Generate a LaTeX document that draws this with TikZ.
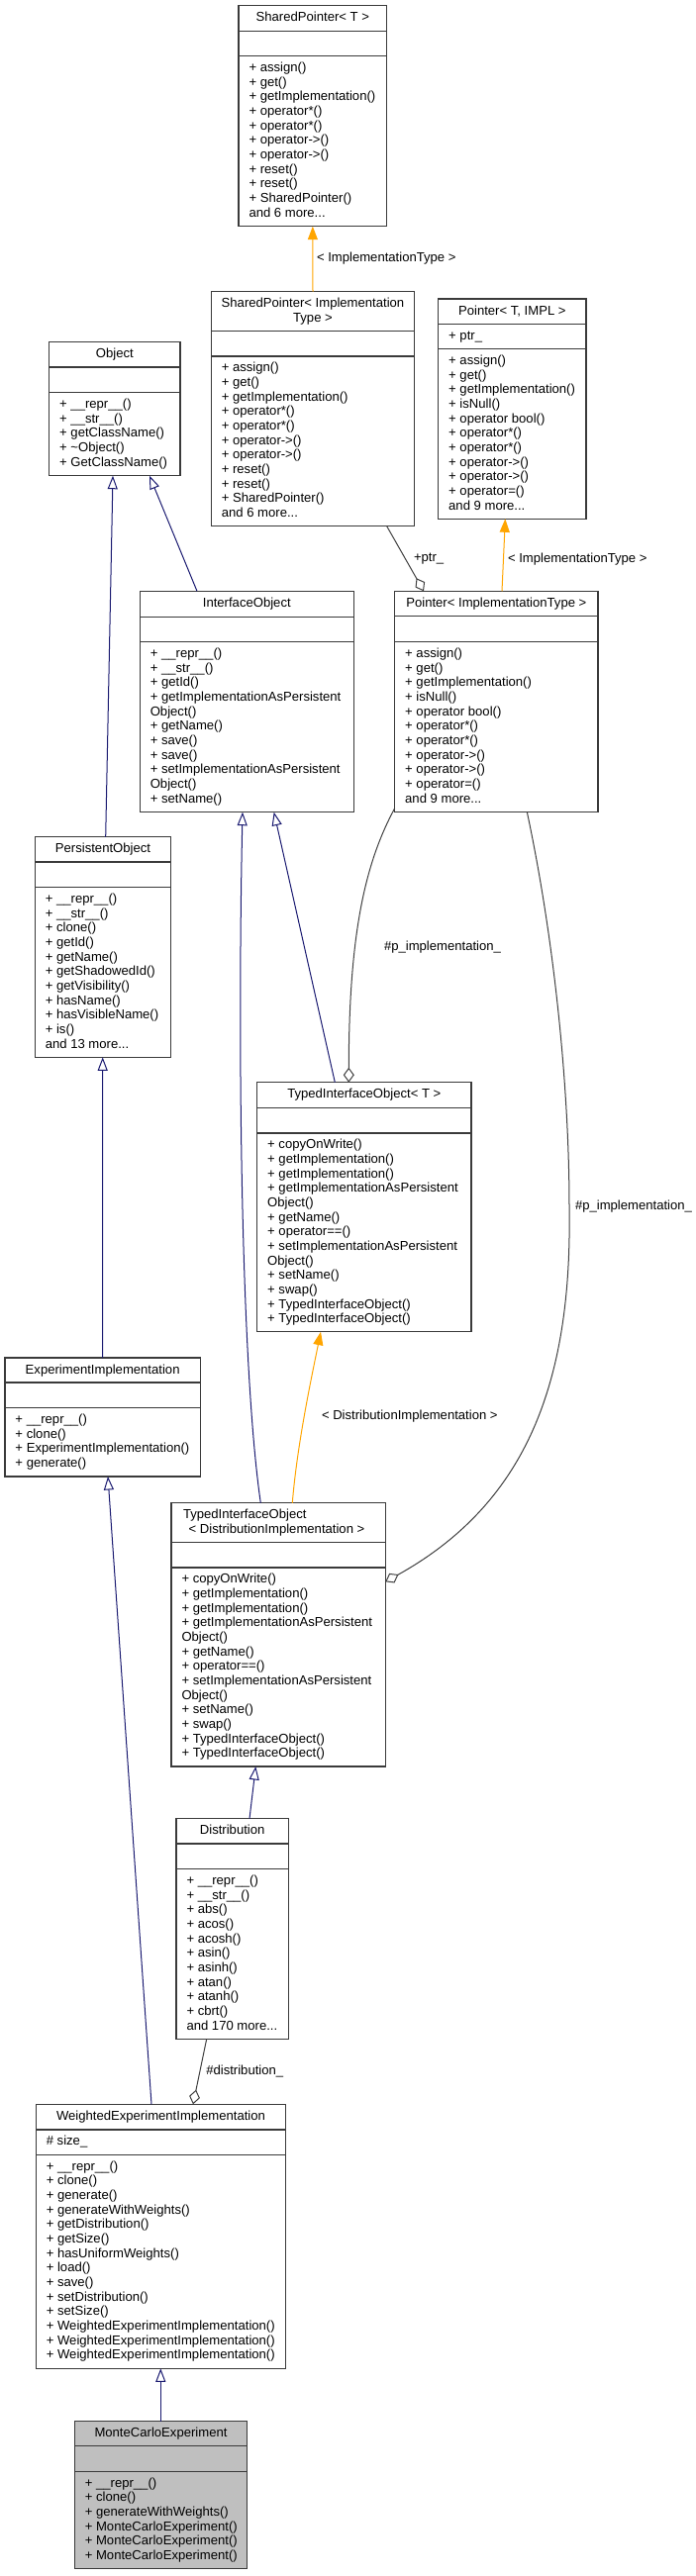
\documentclass[tikz,border=0pt]{standalone}
\usepackage{fontspec}
\setmainfont{Liberation Sans}
\usetikzlibrary{arrows.meta}
\definecolor{boxline}{HTML}{3A3A3A}
\definecolor{inhblue}{HTML}{191970}
\definecolor{tmplorange}{HTML}{FFA500}
\definecolor{usegrey}{HTML}{404040}
\definecolor{mcgrey}{HTML}{BFBFBF}
\tikzset{
  umlframe/.style={draw=boxline, line width=1.2pt, inner sep=0pt, outer sep=0pt, anchor=north west},
  umlsep/.style={draw=boxline, line width=1.2pt},
  umltext/.style={inner sep=0pt, outer sep=0pt, text=black, font=\fontsize{13.1pt}{14.67pt}\selectfont},
  inherit/.style={draw=inhblue, line width=1pt, -{Triangle[open, length=13.5pt, width=10pt]}},
  tmpl/.style={draw=tmplorange, line width=1pt, -{Triangle[length=13.5pt, width=10pt, fill=tmplorange]}},
  usage/.style={draw=usegrey, line width=1pt, -{Diamond[open, length=15pt, width=11pt]}},
  edgelabel/.style={umltext, anchor=west},
}
% name, left, top, right, title sep, attr sep, bottom, fill
\newcommand{\umlbox}[8]{%
  \node[umlframe, fill=#8, minimum width=#4pt-#2pt, minimum height=#7pt-#3pt] (#1) at (#2,#3) {};
  \draw[umlsep] (#2,#5) -- (#4,#5);
  \draw[umlsep] (#2,#6) -- (#4,#6);
}
% name, left, right, top, text
\newcommand{\umltitle}[5]{%
  \node[umltext, anchor=base west] (#1) at (#2,#4+16) {\parbox[t]{\dimexpr #3pt-#2pt\relax}{\centering #5}};
}
% name, left, separator y, lines
\newcommand{\umlmembers}[4]{%
  \node[umltext, anchor=base west] (#1) at (#2+10.5,#3+15.7) {\parbox[t]{320pt}{\raggedright #4}};
}
\newcommand{\spmethods}{+ assign()\\+ get()\\+ getImplementation()\\+ operator*()\\+ operator*()\\+ operator->()\\+ operator->()\\+ reset()\\+ reset()\\+ SharedPointer()\\and 6 more...}
\newcommand{\ptmethods}{+ assign()\\+ get()\\+ getImplementation()\\+ isNull()\\+ operator bool()\\+ operator*()\\+ operator*()\\+ operator->()\\+ operator->()\\+ operator=()\\and 9 more...}
\newcommand{\tiomethods}{+ copyOnWrite()\\+ getImplementation()\\+ getImplementation()\\+ getImplementationAsPersistent\\Object()\\+ getName()\\+ operator==()\\+ setImplementationAsPersistent\\Object()\\+ setName()\\+ swap()\\+ TypedInterfaceObject()\\+ TypedInterfaceObject()}
\begin{document}
\begin{tikzpicture}[x=1pt, y=-1pt]
\path[fill=white] (0,0) rectangle (703,2603);
\useasboundingbox (0,0) rectangle (703,2603);

% SharedPointer< T >
\umlbox{spt}{241}{5.7}{390.7}{31.3}{56.7}{228.7}{white}
\umltitle{spt-t}{241}{390.7}{5.7}{SharedPointer< T >}
\umlmembers{spt-m}{241}{56.7}{\spmethods}

% SharedPointer< ImplementationType >
\umlbox{spit}{213.3}{294.7}{418.7}{334.3}{360}{531.7}{white}
\umltitle{spit-t}{213.3}{418.7}{294.7}{SharedPointer< Implementation\\Type >}
\umlmembers{spit-m}{213.3}{360}{\spmethods}

% Pointer< T, IMPL >
\umlbox{pti}{442.7}{302}{592}{327.3}{352.7}{524.3}{white}
\umltitle{pti-t}{442.7}{592}{302}{Pointer< T, IMPL >}
\umlmembers{pti-a}{442.7}{327.3}{+ ptr\_}
\umlmembers{pti-m}{442.7}{352.7}{\ptmethods}

% Object
\umlbox{obj}{49.7}{345.7}{182}{371}{396.7}{480.7}{white}
\umltitle{obj-t}{49.7}{182}{345.7}{Object}
\umlmembers{obj-m}{49.7}{396.7}{+ \_\_repr\_\_()\\+ \_\_str\_\_()\\+ getClassName()\\+ \textasciitilde Object()\\+ GetClassName()}

% InterfaceObject
\umlbox{io}{141.3}{597.3}{357.3}{623.3}{648.7}{820.7}{white}
\umltitle{io-t}{141.3}{357.3}{597.3}{InterfaceObject}
\umlmembers{io-m}{141.3}{648.7}{+ \_\_repr\_\_()\\+ \_\_str\_\_()\\+ getId()\\+ getImplementationAsPersistent\\Object()\\+ getName()\\+ save()\\+ save()\\+ setImplementationAsPersistent\\Object()\\+ setName()}

% Pointer< ImplementationType >
\umlbox{pit}{398.7}{597.3}{604}{622.7}{648.7}{820.3}{white}
\umltitle{pit-t}{398.7}{604}{597.3}{Pointer< ImplementationType >}
\umlmembers{pit-m}{398.7}{648.7}{\ptmethods}

% PersistentObject
\umlbox{po}{35.3}{845.7}{172.7}{871}{896.7}{1068.3}{white}
\umltitle{po-t}{35.3}{172.7}{845.7}{PersistentObject}
\umlmembers{po-m}{35.3}{896.7}{+ \_\_repr\_\_()\\+ \_\_str\_\_()\\+ clone()\\+ getId()\\+ getName()\\+ getShadowedId()\\+ getVisibility()\\+ hasName()\\+ hasVisibleName()\\+ is()\\and 13 more...}

% TypedInterfaceObject< T >
\umlbox{tiot}{259.7}{1093.7}{476}{1119.3}{1145}{1345.7}{white}
\umltitle{tiot-t}{259.7}{476}{1093.7}{TypedInterfaceObject< T >}
\umlmembers{tiot-m}{259.7}{1145}{\tiomethods}

% ExperimentImplementation
\umlbox{ei}{5}{1372}{202.3}{1397}{1422.7}{1492}{white}
\umltitle{ei-t}{5}{202.3}{1372}{ExperimentImplementation}
\umlmembers{ei-m}{5}{1422.7}{+ \_\_repr\_\_()\\+ clone()\\+ ExperimentImplementation()\\+ generate()}

% TypedInterfaceObject< DistributionImplementation >
\umlbox{tiod}{173}{1518.7}{389.3}{1558.7}{1584}{1785}{white}
\node[umltext, anchor=base west] (tiod-t) at (185,1518.7+16) {\parbox[t]{250pt}{\raggedright TypedInterfaceObject\\\hspace*{5.7pt}< DistributionImplementation >}};
\umlmembers{tiod-m}{173}{1584}{\tiomethods}

% Distribution
\umlbox{dist}{178}{1837.7}{291.3}{1863}{1888.7}{2060.3}{white}
\umltitle{dist-t}{178}{291.3}{1837.7}{Distribution}
\umlmembers{dist-m}{178}{1888.7}{+ \_\_repr\_\_()\\+ \_\_str\_\_()\\+ abs()\\+ acos()\\+ acosh()\\+ asin()\\+ asinh()\\+ atan()\\+ atanh()\\+ cbrt()\\and 170 more...}

% WeightedExperimentImplementation
\umlbox{wei}{36.3}{2126.3}{288.7}{2152}{2177.3}{2393.3}{white}
\umltitle{wei-t}{36.3}{288.7}{2126.3}{WeightedExperimentImplementation}
\umlmembers{wei-a}{36.3}{2152}{\# size\_}
\umlmembers{wei-m}{36.3}{2177.3}{+ \_\_repr\_\_()\\+ clone()\\+ generate()\\+ generateWithWeights()\\+ getDistribution()\\+ getSize()\\+ hasUniformWeights()\\+ load()\\+ save()\\+ setDistribution()\\+ setSize()\\+ WeightedExperimentImplementation()\\+ WeightedExperimentImplementation()\\+ WeightedExperimentImplementation()}

% MonteCarloExperiment
\umlbox{mce}{75.3}{2446.7}{249.7}{2471.7}{2497.3}{2595.7}{mcgrey}
\umltitle{mce-t}{75.3}{249.7}{2446.7}{MonteCarloExperiment}
\umlmembers{mce-m}{75.3}{2497.3}{+ \_\_repr\_\_()\\+ clone()\\+ generateWithWeights()\\+ MonteCarloExperiment()\\+ MonteCarloExperiment()\\+ MonteCarloExperiment()}

% inheritance
\draw[inherit] ([xshift=2.7pt]po.north) -- ([xshift=-1.85pt]obj.south);
\draw[inherit] ([xshift=-50.3pt]io.north) -- ([xshift=35.15pt]obj.south);
\draw[inherit] (ei.north) -- ([xshift=-0.3pt]po.south);
\draw[inherit] ([xshift=-29.55pt]tiot.north) -- ([xshift=27.4pt]io.south);
\draw[inherit] ([xshift=-17.85pt]tiod.north) .. controls (243,1380) and (240,1050) .. ([xshift=-4.3pt]io.south);
\draw[inherit] ([xshift=17.35pt]dist.north) -- ([xshift=-22.85pt]tiod.south);
\draw[inherit] ([xshift=-9.5pt]wei.north) -- ([xshift=5.35pt]ei.south);
\draw[inherit] ([xshift=-0.2pt]mce.north) -- ([xshift=-0.2pt]wei.south);

% template instantiation
\draw[tmpl] (spit.north) -- (spt.south);
\draw[tmpl] ([xshift=5.65pt]pit.north) -- ([xshift=-7pt]pti.south);
\draw[tmpl] ([xshift=14.15pt]tiod.north) .. controls (300,1460) and (315,1390) .. ([xshift=-43.85pt]tiot.south);

% usage
\draw[usage] ([xshift=74.7pt]spit.south) -- ([xshift=-73.35pt]pit.north);
\draw[usage] ([yshift=3.6pt]pit.south west) .. controls (370,870) and (352.3,940) .. ([xshift=-15.55pt]tiot.north);
\draw[usage] ([xshift=30.95pt]pit.south) .. controls (560,950) and (575,1100) .. (575,1220) .. controls (578,1400) and (530,1520) .. ([yshift=53.55pt]tiod.east);
\draw[usage] ([xshift=-25.95pt]dist.south) -- ([xshift=32.5pt]wei.north);

% edge labels
\node[edgelabel] (l-spt) at (320,261) {< ImplementationType >};
\node[edgelabel] (l-pti) at (513,565) {< ImplementationType >};
\node[edgelabel] (l-ptr) at (418,565) {+ptr\_};
\node[edgelabel] (l-pimp1) at (388,956.7) {\#p\_implementation\_};
\node[edgelabel] (l-pimp2) at (581,1219) {\#p\_implementation\_};
\node[edgelabel] (l-dimpl) at (325,1430.7) {< DistributionImplementation >};
\node[edgelabel] (l-dist) at (208.3,2092.7) {\#distribution\_};
\end{tikzpicture}
\end{document}
